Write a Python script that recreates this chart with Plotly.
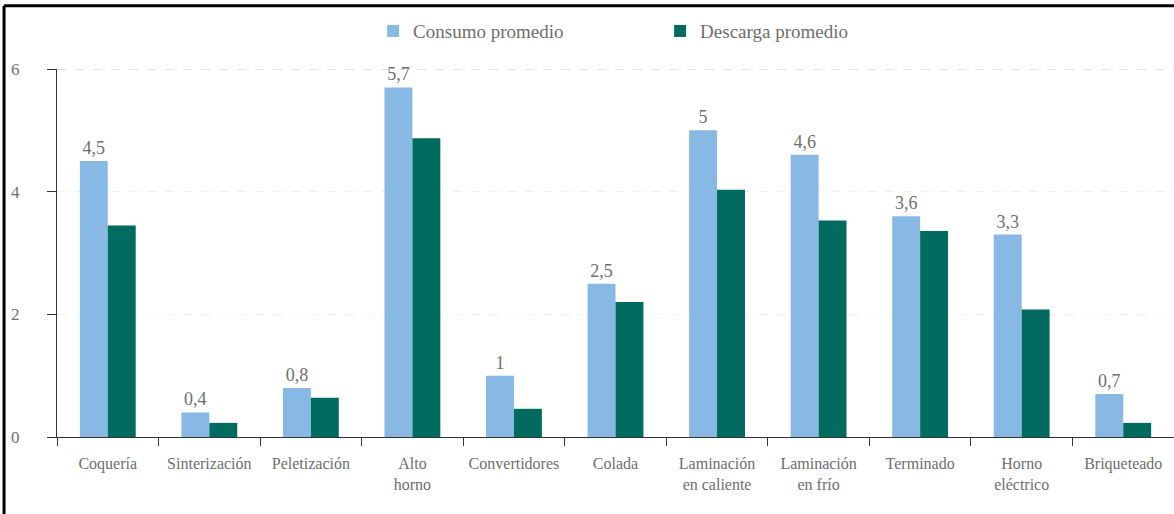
import plotly.graph_objects as go

categories = ["Coquería", "Sinterización", "Peletización", "Alto<br>horno", "Convertidores",
              "Colada", "Laminación<br>en caliente", "Laminación<br>en frío", "Terminado",
              "Horno<br>eléctrico", "Briqueteado"]
consumo = [4.5, 0.4, 0.8, 5.7, 1.0, 2.5, 5.0, 4.6, 3.6, 3.3, 0.7]
descarga = [3.45, 0.23, 0.64, 4.87, 0.46, 2.2, 4.03, 3.53, 3.36, 2.08, 0.23]
consumo_labels = ["4,5", "0,4", "0,8", "5,7", "1", "2,5", "5", "4,6", "3,6", "3,3", "0,7"]
y_ticks = [0, 2, 4, 6]

FONT = "Liberation Serif"
GRAY = "#6e6e6e"

fig = go.Figure()
fig.add_trace(go.Bar(
    x=categories, y=consumo, name="Consumo promedio",
    marker=dict(color="#88B9E4", line=dict(width=0)),
    text=consumo_labels, textposition="outside", cliponaxis=False,
    textfont=dict(family=FONT, size=18, color=GRAY),
))
fig.add_trace(go.Bar(
    x=categories, y=descarga, name="Descarga promedio",
    marker=dict(color="#006B5E", line=dict(width=0)),
))

fig.update_layout(
    width=1174, height=514,
    margin=dict(l=57, r=0, t=69, b=77),
    paper_bgcolor="white", plot_bgcolor="white",
    barmode="group", bargap=0.45, bargroupgap=0,
    font=dict(family=FONT, size=17, color=GRAY),
    showlegend=True,
    legend=dict(orientation="h", x=0.283, xanchor="left", y=1.103, yanchor="middle",
                entrywidth=242, entrywidthmode="pixels",
                font=dict(family=FONT, size=19, color=GRAY), itemsizing="constant"),
    xaxis=dict(
        type="category", showline=True, linecolor="#333333", linewidth=1,
        ticks="outside", tickson="boundaries", ticklen=8, tickcolor="#333333",
        tickfont=dict(family=FONT, size=16, color=GRAY), ticklabelstandoff=12,
        tickangle=0, showgrid=False, zeroline=False, automargin=False,
    ),
    yaxis=dict(
        range=[0, 6], tickvals=y_ticks, showline=True, linecolor="#333333", linewidth=1,
        ticks="outside", ticklen=9, tickcolor="#333333",
        tickfont=dict(family=FONT, size=17, color=GRAY), ticklabelstandoff=24,
        showgrid=True, gridcolor="#efefef", griddash="dash", zeroline=False, automargin=False,
    ),
    shapes=[
        dict(type="line", xref="paper", yref="y", x0=0, x1=1, y0=6, y1=6,
             line=dict(color="#c4c4c4", width=1, dash="dash")),
        dict(type="line", xref="paper", yref="paper", x0=-0.0474, x1=1.01, y0=1.172, y1=1.172,
             line=dict(color="black", width=3)),
        dict(type="line", xref="paper", yref="paper", x0=-0.0474, x1=-0.0474, y0=1.172, y1=-0.25,
             line=dict(color="black", width=3)),
    ],
)

fig.write_html("out.html", config={"displayModeBar": False},
               post_script="document.body.style.margin='0px';")
